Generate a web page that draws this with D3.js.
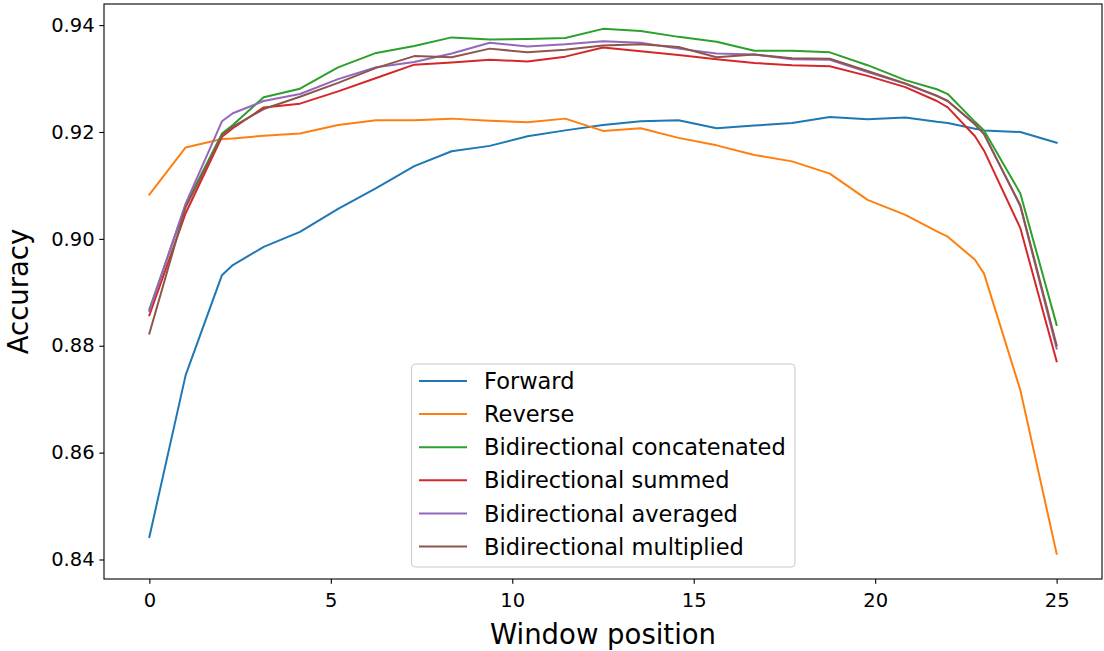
<!DOCTYPE html>
<html>
<head>
<meta charset="utf-8">
<script src="https://cdn.jsdelivr.net/npm/d3@7"></script>
<style>
  html, body { margin: 0; padding: 0; background: #fff; }
  svg { display: block; font-family: "DejaVu Sans", sans-serif; }
</style>
</head>
<body>
<svg id="chart" width="1104" height="651"></svg>
<script>
// Window positions shared by every series
const positions = [0, 1, 2, 2.3, 3.15, 4.15, 5.2, 6.25, 7.3, 8.33, 9.38, 10.42, 11.46, 12.5,
  13.54, 14.58, 15.63, 16.67, 17.71, 18.75, 19.79, 20.83, 21.7, 22, 22.75, 23, 24, 25];

const forward = [0.8442, 0.8745, 0.8932, 0.8951, 0.8985, 0.9013, 0.9056, 0.9095, 0.9136, 0.9164,
  0.9174, 0.9192, 0.9203, 0.9213, 0.9220, 0.9222, 0.9207, 0.9212, 0.9217, 0.9228,
  0.9224, 0.9227, 0.9219, 0.9217, 0.9206, 0.9203, 0.9200, 0.9180];

const reverse = [0.9083, 0.9171, 0.9187, 0.9188, 0.9193, 0.9197, 0.9213, 0.9222, 0.9222, 0.9225,
  0.9221, 0.9218, 0.9225, 0.9202, 0.9207, 0.9189, 0.9175, 0.9157, 0.9145, 0.9122,
  0.9073, 0.9045, 0.9014, 0.9004, 0.8961, 0.8935, 0.8717, 0.8411];

const biConcat = [0.8868, 0.9063, 0.9197, 0.9213, 0.9265, 0.9281, 0.9321, 0.9348, 0.9361, 0.9377,
  0.9373, 0.9374, 0.9376, 0.9393, 0.9389, 0.9378, 0.9369, 0.9352, 0.9352, 0.9349,
  0.9325, 0.9297, 0.9280, 0.9271, 0.9219, 0.9203, 0.9085, 0.8839];

const biSum = [0.8857, 0.9048, 0.9191, 0.9207, 0.9246, 0.9253, 0.9276, 0.9301, 0.9326, 0.9330,
  0.9335, 0.9332, 0.9341, 0.9358, 0.9351, 0.9344, 0.9336, 0.9329, 0.9325, 0.9323,
  0.9305, 0.9284, 0.9258, 0.9246, 0.9192, 0.9165, 0.9020, 0.8771];

const biAvg = [0.8865, 0.9066, 0.9220, 0.9235, 0.9258, 0.9271, 0.9299, 0.9321, 0.9331, 0.9347,
  0.9367, 0.9360, 0.9364, 0.9370, 0.9367, 0.9356, 0.9347, 0.9345, 0.9336, 0.9335,
  0.9312, 0.9290, 0.9267, 0.9258, 0.9214, 0.9196, 0.9061, 0.8795];

const biMul = [0.8823, 0.9059, 0.9194, 0.9210, 0.9243, 0.9266, 0.9292, 0.9320, 0.9342, 0.9340,
  0.9356, 0.9349, 0.9354, 0.9362, 0.9364, 0.9359, 0.9340, 0.9345, 0.9338, 0.9337,
  0.9314, 0.9291, 0.9268, 0.9258, 0.9215, 0.9196, 0.9063, 0.8801];

const seriesNames = ["Forward", "Reverse", "Bidirectional concatenated", "Bidirectional summed",
  "Bidirectional averaged", "Bidirectional multiplied"];
const seriesValues = [forward, reverse, biConcat, biSum, biAvg, biMul];
const colors = ["#1f77b4", "#ff7f0e", "#2ca02c", "#d62728", "#9467bd", "#8c564b"];

const xTicks = [0, 5, 10, 15, 20, 25];
const yTicks = [0.84, 0.86, 0.88, 0.90, 0.92, 0.94];

const svg = d3.select("#chart");
const plot = { left: 104, right: 1102, top: 4, bottom: 579 };

const x = d3.scaleLinear().domain([-1.25, 26.25]).range([plot.left, plot.right]);
const y = d3.scaleLinear().domain([0.83635, 0.94395]).range([plot.bottom, plot.top]);

// Axes
const xAxis = svg.append("g")
  .attr("transform", `translate(0,${plot.bottom})`)
  .call(d3.axisBottom(x).tickValues(xTicks).tickFormat(d3.format("d"))
    .tickSizeInner(4.7).tickSizeOuter(0).tickPadding(4.7));
const yAxis = svg.append("g")
  .attr("transform", `translate(${plot.left},0)`)
  .call(d3.axisLeft(y).tickValues(yTicks).tickFormat(d3.format(".2f"))
    .tickSizeInner(4.7).tickSizeOuter(0).tickPadding(4.7));

[xAxis, yAxis].forEach(g => {
  g.select(".domain").remove();
  g.selectAll(".tick line").attr("stroke", "#000").attr("stroke-width", 1.1);
  g.selectAll(".tick text")
    .attr("fill", "#000")
    .style("font-size", "19.5px")
    .style("font-family", "'DejaVu Sans', sans-serif");
});
xAxis.selectAll(".tick text").attr("dy", "0.95em");

// Lines
const line = d3.line()
  .x((d, i) => x(positions[i]))
  .y(d => y(d));

seriesValues.forEach((vals, k) => {
  svg.append("path")
    .datum(vals)
    .attr("d", line)
    .attr("fill", "none")
    .attr("stroke", colors[k])
    .attr("stroke-width", 2)
    .attr("stroke-linejoin", "round")
    .attr("stroke-linecap", "square");
});

// Frame
svg.append("rect")
  .attr("x", plot.left).attr("y", plot.top)
  .attr("width", plot.right - plot.left).attr("height", plot.bottom - plot.top)
  .attr("fill", "none").attr("stroke", "#000").attr("stroke-width", 1.1);

// Axis titles
svg.append("text")
  .attr("x", x(12.5)).attr("y", 644)
  .attr("text-anchor", "middle")
  .style("font-size", "27.5px")
  .text("Window position");
svg.append("text")
  .attr("transform", `translate(28,${(plot.top + plot.bottom) / 2}) rotate(-90)`)
  .attr("text-anchor", "middle")
  .style("font-size", "27.5px")
  .text("Accuracy");

// Legend
const legend = svg.append("g");
legend.append("rect")
  .attr("x", 411.5).attr("y", 364)
  .attr("width", 383.5).attr("height", 203)
  .attr("rx", 4).attr("ry", 4)
  .attr("fill", "#fff").attr("fill-opacity", 0.8)
  .attr("stroke", "#cccccc").attr("stroke-width", 1.1);

seriesNames.forEach((name, k) => {
  const yy = 381 + k * 33.1;
  legend.append("line")
    .attr("x1", 419).attr("x2", 467)
    .attr("y1", yy).attr("y2", yy)
    .attr("stroke", colors[k]).attr("stroke-width", 2);
  legend.append("text")
    .attr("x", 484).attr("y", yy)
    .attr("dy", "0.36em")
    .style("font-size", "22.5px")
    .text(name);
});
</script>
</body>
</html>
